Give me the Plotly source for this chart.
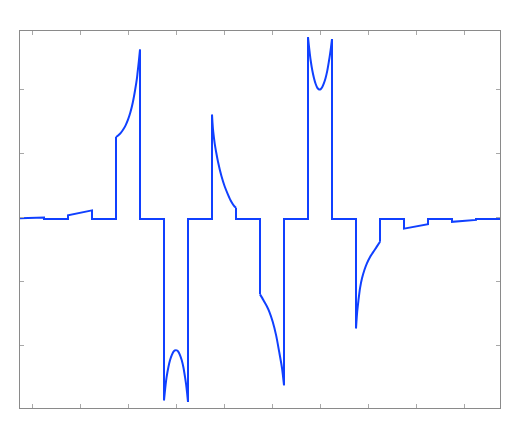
import plotly.graph_objects as go

# ---- data ----
baseline_level = -0.025

pulse_start = [0, 2, 4, 6, 8, 10, 12, 14, 16, 18]

pulse0_t = [0, 1]
pulse0_v = [-0.012, -0.003]

pulse1_t = [0, 1]
pulse1_v = [0.034, 0.109]

pulse2_t = [0, 0.1, 0.2, 0.3, 0.4, 0.5, 0.6, 0.7, 0.8, 0.875, 0.9, 0.95, 1.0]
pulse2_v = [1.253, 1.282, 1.319, 1.369, 1.435, 1.523, 1.639, 1.792, 1.994, 2.175, 2.262, 2.427, 2.617]

pulse3_t = [0, 0.03, 0.07, 0.11, 0.18, 0.25, 0.32, 0.39, 0.45, 0.5, 0.55, 0.6, 0.67, 0.74, 0.81, 0.875, 0.92, 0.96, 1.0]
pulse3_v = [-2.852, -2.74, -2.60, -2.487, -2.34, -2.227, -2.15, -2.097, -2.075, -2.07, -2.075, -2.097, -2.15, -2.227, -2.34, -2.487, -2.60, -2.73, -2.878]

pulse4_t = [0, 0.02, 0.05, 0.11, 0.18, 0.25, 0.39, 0.53, 0.67, 0.8, 0.94, 1.0]
pulse4_v = [1.602, 1.48, 1.34, 1.159, 1.003, 0.867, 0.648, 0.481, 0.352, 0.247, 0.169, 0.15]

pulse5_t = [0, 0.09, 0.18, 0.29, 0.39, 0.53, 0.67, 0.8, 0.92, 1.0]
pulse5_v = [-1.2, -1.255, -1.316, -1.39, -1.472, -1.628, -1.836, -2.097, -2.356, -2.617]

pulse6_t = [0, 0.03, 0.07, 0.11, 0.18, 0.25, 0.32, 0.39, 0.44, 0.48, 0.53, 0.59, 0.66, 0.73, 0.8, 0.87, 0.92, 0.96, 1.0]
pulse6_v = [2.81, 2.70, 2.57, 2.45, 2.29, 2.17, 2.08, 2.02, 2.0, 1.992, 2.0, 2.03, 2.09, 2.17, 2.28, 2.43, 2.55, 2.66, 2.78]

pulse7_t = [0, 0.02, 0.05, 0.1, 0.17, 0.25, 0.35, 0.45, 0.58, 0.7, 0.86, 1.0]
pulse7_v = [-1.73, -1.62, -1.47, -1.30, -1.10, -0.95, -0.82, -0.72, -0.62, -0.55, -0.46, -0.38]

pulse8_t = [0, 1]
pulse8_v = [-0.175, -0.105]

pulse9_t = [0, 1]
pulse9_v = [-0.07, -0.039]

pulse_t = [pulse0_t, pulse1_t, pulse2_t, pulse3_t, pulse4_t,
           pulse5_t, pulse6_t, pulse7_t, pulse8_t, pulse9_t]
pulse_v = [pulse0_v, pulse1_v, pulse2_v, pulse3_v, pulse4_v,
           pulse5_v, pulse6_v, pulse7_v, pulse8_v, pulse9_v]

x_end = 20
x_ticks = [0.5, 2.5, 4.5, 6.5, 8.5, 10.5, 12.5, 14.5, 16.5, 18.5]
y_ticks = [-2, -1, 0, 1, 2]

LINE_COLOR = "#1040ff"
LINE_WIDTH = 2

fig = go.Figure()

# steps (baseline + vertical jumps + straight pulses) as one linear trace;
# curved pulse bodies as separate smooth traces
sx, sy = [], []
for s, tt, vv in zip(pulse_start, pulse_t, pulse_v):
    if s > 0:
        sx.append(s)
        sy.append(baseline_level)
    if len(tt) == 2:
        for t, v in zip(tt, vv):
            sx.append(s + t)
            sy.append(v)
    else:
        sx += [s + tt[0], None, s + tt[-1]]
        sy += [vv[0], None, vv[-1]]
        fig.add_trace(go.Scatter(
            x=[s + t for t in tt], y=vv, mode="lines",
            line=dict(color=LINE_COLOR, width=LINE_WIDTH, shape="spline", smoothing=0.8),
            hoverinfo="skip", showlegend=False,
        ))
    sx.append(s + 1)
    sy.append(baseline_level)
sx.append(x_end)
sy.append(baseline_level)

fig.add_trace(go.Scatter(
    x=sx, y=sy, mode="lines", connectgaps=False,
    line=dict(color=LINE_COLOR, width=LINE_WIDTH),
    hoverinfo="skip", showlegend=False,
))

axis_common = dict(
    showline=True, linecolor="#8a8a8a", linewidth=1, mirror="ticks",
    ticks="inside", ticklen=4, tickcolor="#a8a8a8", tickwidth=1,
    showgrid=False, zeroline=False, showticklabels=False,
)
fig.update_xaxes(range=[0, x_end], tickmode="array", tickvals=x_ticks, **axis_common)
fig.update_yaxes(range=[-2.972, 2.906], tickmode="array", tickvals=y_ticks, **axis_common)

fig.update_layout(
    width=515, height=432,
    margin=dict(l=12, r=23, t=23, b=32),
    paper_bgcolor="white", plot_bgcolor="white",
)

fig.write_html("out.html")
